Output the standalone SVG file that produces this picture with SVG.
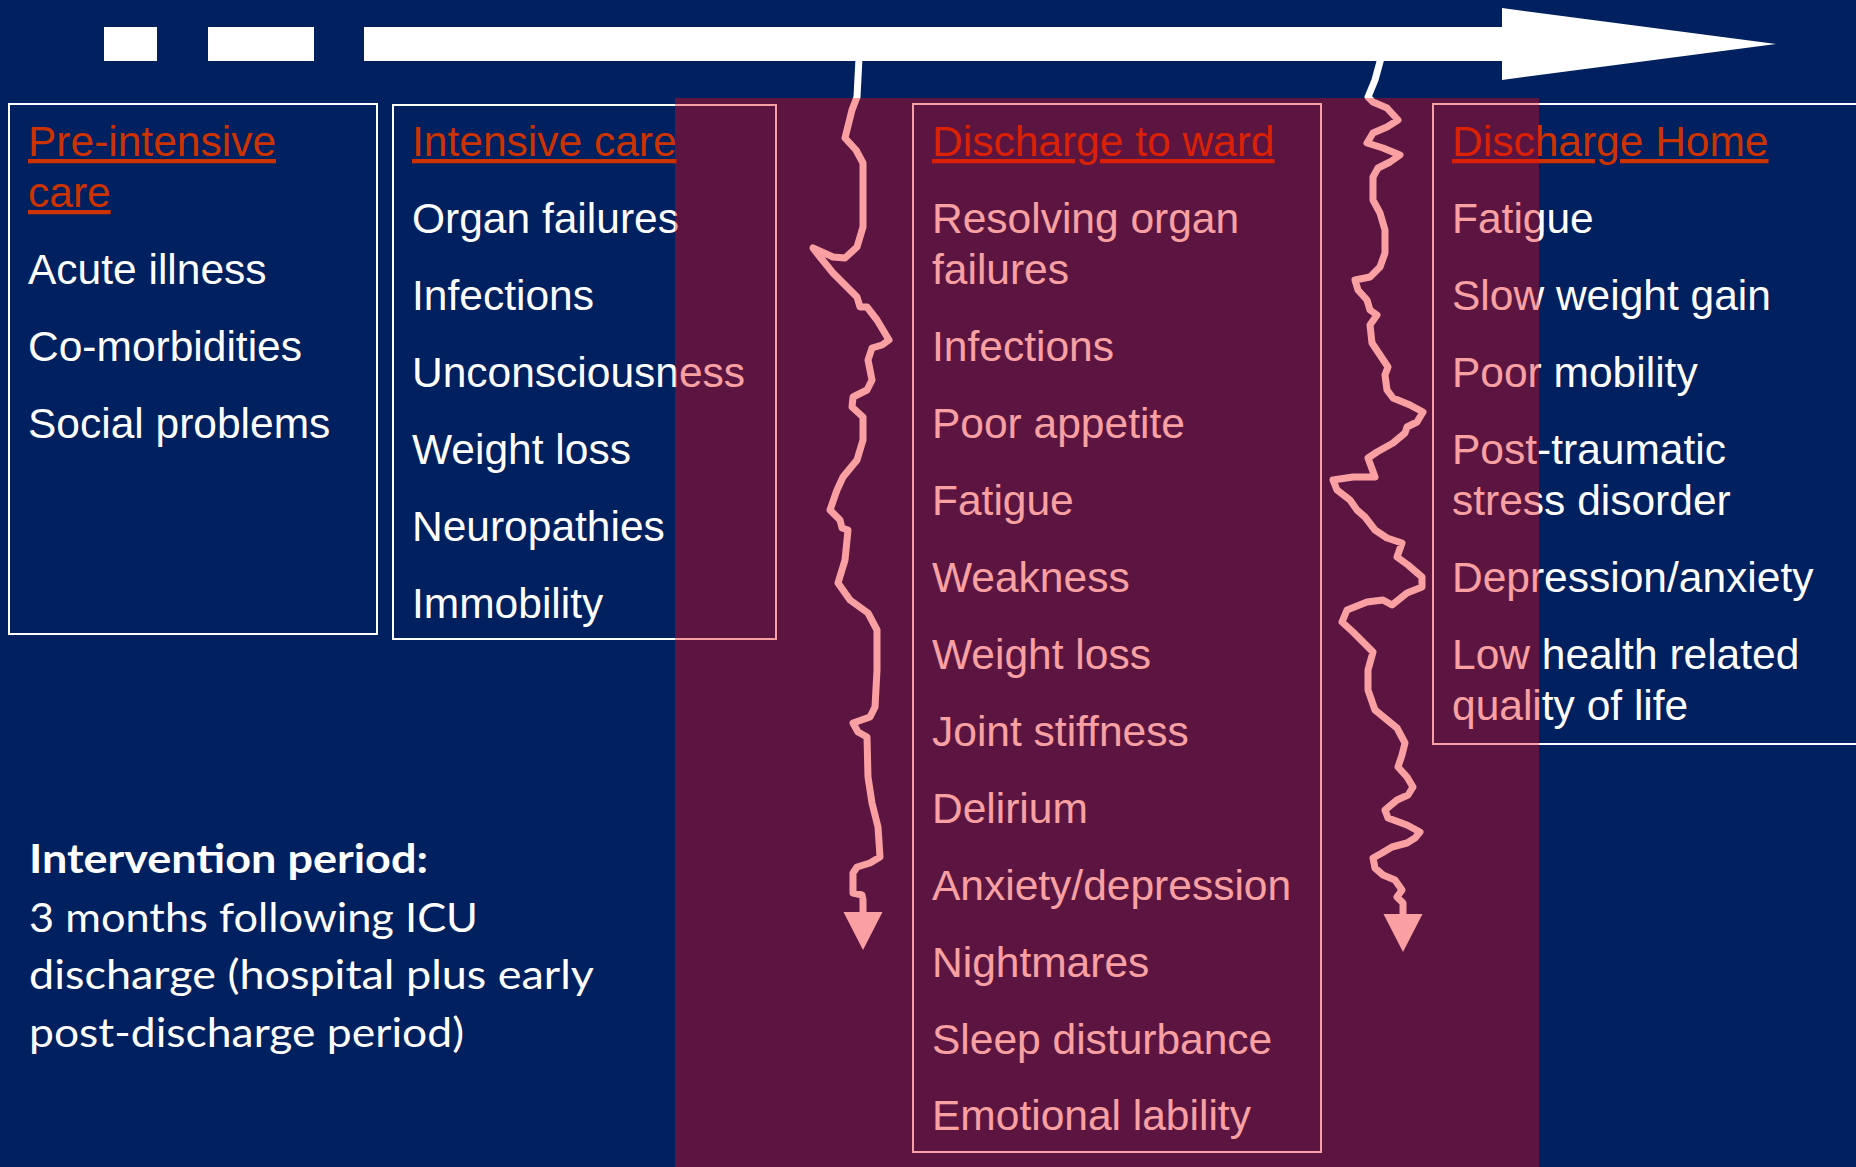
<svg xmlns="http://www.w3.org/2000/svg" width="1856" height="1167" viewBox="0 0 1856 1167">
<style>
.bg{fill:#002060}
.box{fill:none;stroke:#FFFFFF;stroke-width:2}
.t{font-family:"Liberation Sans",Arial,sans-serif;font-size:42.5px;fill:#FFFFFF}
.h{font-family:"Liberation Sans",Arial,sans-serif;font-size:42.5px;fill:#CC3300;text-decoration:underline}
.iv{font-family:Lato,"Open Sans",sans-serif;font-size:40px;fill:#FFFFFF}
.sq{fill:none;stroke:#FFFFFF;stroke-width:7;stroke-linejoin:round;stroke-linecap:round}
</style>
<defs>
<marker id="head" markerUnits="userSpaceOnUse" markerWidth="40" markerHeight="42" refX="0" refY="20" orient="auto" viewBox="0 0 40 40" overflow="visible">
<path d="M0,0.5 L38,20 L0,39.5 Z" fill="#FFFFFF"/>
</marker>
</defs>
<rect class="bg" x="0" y="0" width="1856" height="1167"/>
<g id="timeline">
<rect x="104" y="27" width="53" height="34" fill="#FFFFFF"/>
<rect x="208" y="27" width="106" height="34" fill="#FFFFFF"/>
<polygon points="364,27 1502,27 1502,8 1776,44 1502,80 1502,61 364,61" fill="#FFFFFF"/>
</g>
<g id="pre-intensive">
<rect class="box" x="9" y="104" width="368" height="530"/>
<text class="h" x="28" y="156">Pre-intensive</text>
<text class="h" x="28" y="207">care</text>
<text class="t" x="28" y="284">Acute illness</text>
<text class="t" x="28" y="361">Co-morbidities</text>
<text class="t" x="28" y="438">Social problems</text>
</g>
<g id="intensive-care">
<rect class="box" x="393" y="105" width="383" height="534"/>
<text class="h" x="412" y="156">Intensive care</text>
<text class="t" x="412" y="233">Organ failures</text>
<text class="t" x="412" y="310">Infections</text>
<text class="t" x="412" y="387">Unconsciousness</text>
<text class="t" x="412" y="464">Weight loss</text>
<text class="t" x="412" y="541">Neuropathies</text>
<text class="t" x="412" y="618">Immobility</text>
</g>
<g id="discharge-ward">
<rect class="box" x="913" y="104" width="408" height="1048"/>
<text class="h" x="932" y="156">Discharge to ward</text>
<text class="t" x="932" y="233">Resolving organ</text>
<text class="t" x="932" y="284">failures</text>
<text class="t" x="932" y="361">Infections</text>
<text class="t" x="932" y="438">Poor appetite</text>
<text class="t" x="932" y="515">Fatigue</text>
<text class="t" x="932" y="592">Weakness</text>
<text class="t" x="932" y="669">Weight loss</text>
<text class="t" x="932" y="746">Joint stiffness</text>
<text class="t" x="932" y="823">Delirium</text>
<text class="t" x="932" y="900">Anxiety/depression</text>
<text class="t" x="932" y="977">Nightmares</text>
<text class="t" x="932" y="1054">Sleep disturbance</text>
<text class="t" x="932" y="1130">Emotional lability</text>
</g>
<g id="discharge-home">
<rect class="box" x="1433" y="104" width="500" height="640"/>
<text class="h" x="1452" y="156">Discharge Home</text>
<text class="t" x="1452" y="233">Fatigue</text>
<text class="t" x="1452" y="310">Slow weight gain</text>
<text class="t" x="1452" y="387">Poor mobility</text>
<text class="t" x="1452" y="464">Post-traumatic</text>
<text class="t" x="1452" y="515">stress disorder</text>
<text class="t" x="1452" y="592">Depression/anxiety</text>
<text class="t" x="1452" y="669">Low health related</text>
<text class="t" x="1452" y="720">quality of life</text>
</g>
<g id="intervention">
<text class="iv" x="29" y="873" font-weight="bold" textLength="399" lengthAdjust="spacingAndGlyphs">Intervention period:</text>
<text class="iv" x="29" y="932" textLength="449" lengthAdjust="spacingAndGlyphs">3 months following ICU</text>
<text class="iv" x="29" y="989" textLength="565" lengthAdjust="spacingAndGlyphs">discharge (hospital plus early</text>
<text class="iv" x="29" y="1047" textLength="435" lengthAdjust="spacingAndGlyphs">post-discharge period)</text>
</g>
<g id="connectors">
<polyline class="sq" marker-end="url(#head)" points="859,58 857,97 852,110 845,138 856,150 863,163 863,203 863,227 857,247 845,258 833,257 813,248 820,257 833,273 857,297 860,307 867,307 877,320 889,340 882,345 872,348 868,360 872,380 867,390 853,397 852,407 863,417 863,440 857,460 843,477 837,490 830,510 840,520 842,528 848,530 845,560 838,583 850,600 868,613 877,630 877,670 875,707 870,717 853,723 858,732 867,737 868,777 872,803 878,827 880,857 870,863 857,867 853,873 853,893 862,895 863,900 863,912"/>
<polyline class="sq" marker-end="url(#head)" points="1381,58 1375,80 1368,97 1373,102 1387,108 1398,120 1387,127 1373,133 1367,143 1383,148 1400,155 1390,162 1378,168 1373,177 1373,200 1380,213 1385,230 1385,253 1380,267 1370,277 1355,280 1358,290 1367,300 1370,310 1377,315 1370,325 1372,343 1380,355 1388,367 1385,375 1387,390 1393,398 1410,405 1423,412 1417,422 1407,427 1405,433 1393,443 1377,452 1368,458 1375,477 1353,477 1333,480 1337,490 1350,500 1357,510 1365,517 1375,530 1387,538 1402,543 1397,557 1408,565 1422,577 1422,587 1407,593 1392,605 1383,600 1367,602 1347,610 1342,622 1353,632 1373,652 1368,670 1368,690 1375,710 1397,728 1405,743 1402,755 1398,767 1407,777 1413,787 1408,795 1397,800 1385,810 1388,818 1407,825 1420,832 1415,838 1407,843 1392,847 1382,853 1373,858 1375,868 1383,875 1395,880 1402,890 1397,897 1403,903 1403,914"/>
</g>
<rect id="highlight" x="675" y="98" width="864" height="1069" fill="#F2060C" fill-opacity="0.38"/>
</svg>
